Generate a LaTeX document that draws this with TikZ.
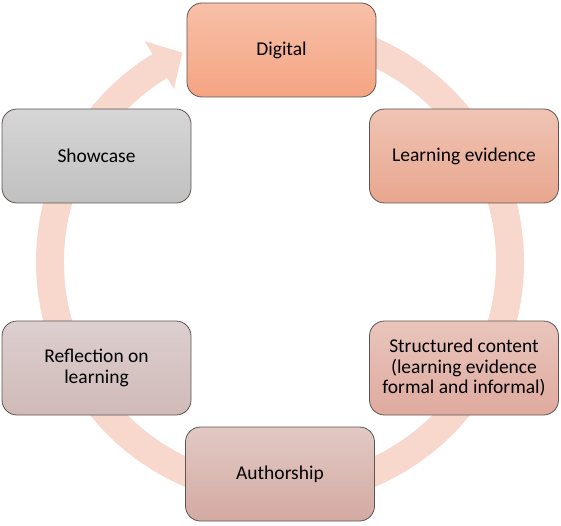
\documentclass[tikz,border=0pt]{standalone}
\usepackage{fontspec}
\setmainfont{Carlito}
\usetikzlibrary{calc}
\definecolor{bandc}{RGB}{248,215,205}
\definecolor{edgec}{RGB}{95,85,80}
\definecolor{dT}{RGB}{247,192,168}\definecolor{dB}{RGB}{245,164,130}
\definecolor{lT}{RGB}{240,196,180}\definecolor{lB}{RGB}{232,166,142}
\definecolor{sT}{RGB}{233,197,188}\definecolor{sB}{RGB}{223,170,158}
\definecolor{aT}{RGB}{226,201,196}\definecolor{aB}{RGB}{211,170,162}
\definecolor{rT}{RGB}{220,207,207}\definecolor{rB}{RGB}{208,186,183}
\definecolor{cT}{RGB}{214,214,214}\definecolor{cB}{RGB}{192,192,192}
\tikzset{
  stagebox/.style={draw=edgec, line width=0.8pt, rounded corners=15pt,
    minimum width=189pt, minimum height=94pt, align=center,
    font=\fontsize{19.5}{20.5}\selectfont, text=black, inner sep=2pt},
}
\begin{document}
\begin{tikzpicture}[x=1pt,y=1pt]
\useasboundingbox (0,0) rectangle (561,525);
\coordinate (C) at (280,263);
\fill[bandc] ($(C)+(95:244)$) arc[start angle=95, end angle=-238.5, radius=244]
  -- ($(C)+(-238.5:259)$) -- ($(C)+(-245:231)$) -- ($(C)+(-238.5:203)$)
  -- ($(C)+(-238.5:216)$) arc[start angle=-238.5, end angle=95, radius=216] -- cycle;
\node[stagebox, top color=dT, bottom color=dB] (dig) at (281.5,475) {Digital};
\node[stagebox, top color=lT, bottom color=lB] (lev) at (464,369) {Learning evidence};
\node[stagebox, top color=sT, bottom color=sB] (str) at (464,157) {Structured content\\(learning evidence\\formal and informal)};
\node[stagebox, top color=aT, bottom color=aB] (aut) at (280,51) {Authorship};
\node[stagebox, top color=rT, bottom color=rB] (ref) at (96.5,157) {Reflection on\\learning};
\node[stagebox, top color=cT, bottom color=cB] (sho) at (96.5,369) {Showcase};
\end{tikzpicture}
\end{document}
